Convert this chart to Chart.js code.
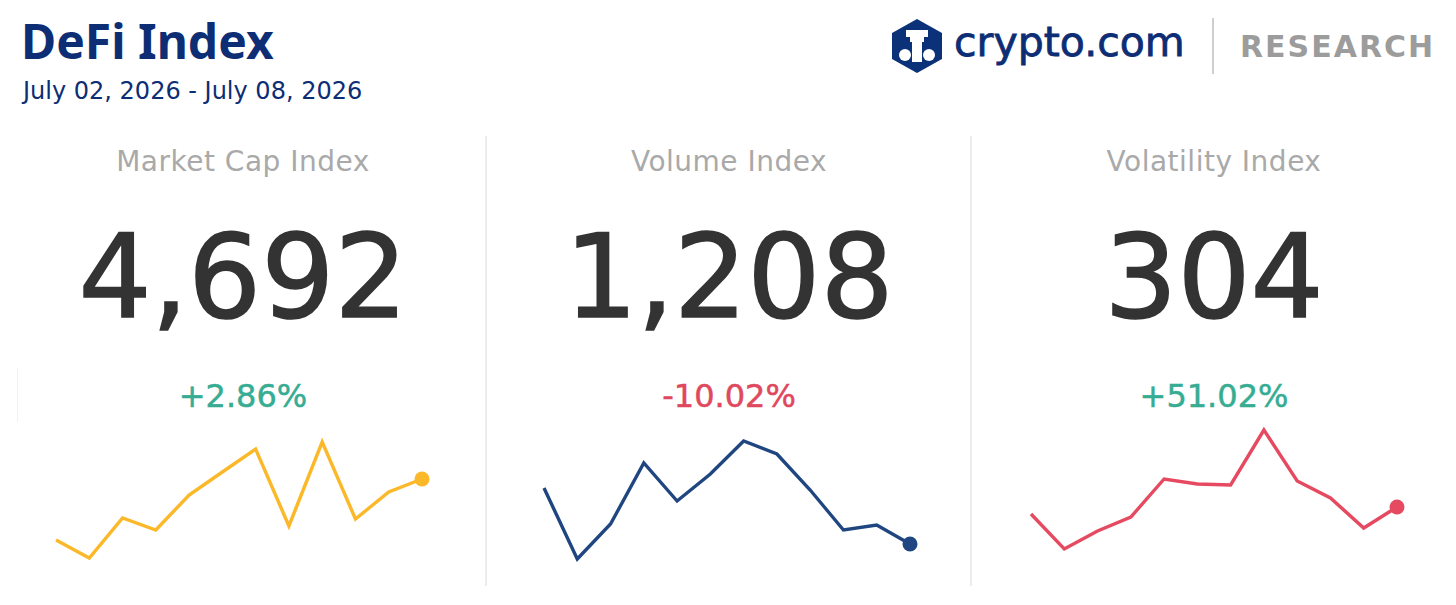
<!DOCTYPE html>
<html>
<head>
<meta charset="utf-8">
<script src="https://cdn.jsdelivr.net/npm/chart.js@4.4.1/dist/chart.umd.min.js"></script>
<style>
  html, body { margin: 0; padding: 0; background: #fff; }
  body { width: 1456px; height: 605px; position: relative; overflow: hidden; font-family: "DejaVu Sans", sans-serif; }
  .abs { position: absolute; white-space: nowrap; line-height: 1; }
  #title { left: 21px; top: 17px; font-family: "Noto Sans", sans-serif; font-size: 48px; font-weight: 700; color: #0d2d74; }
  #dates { left: 23px; top: 79px; font-size: 24px; color: #0d2d74; }
  #brand { left: 954px; top: 22px; font-size: 41px; color: #0d2d74; -webkit-text-stroke: 0.8px #0d2d74; }
  #research { left: 1240px; top: 32px; font-size: 30px; font-weight: 700; color: #9c9c9c; letter-spacing: 2px; }
  #logoSep { left: 1212px; top: 18px; width: 2px; height: 56px; background: #cfcfcf; }
  .divider { top: 136px; width: 2px; height: 450px; background: #ececec; }
  .col { top: 0; width: 486px; height: 605px; }
  .head, .big, .pct { position: absolute; left: 0; width: 100%; text-align: center; line-height: 1; white-space: nowrap; }
  .head { top: 148px; font-size: 28px; letter-spacing: 0.5px; color: #a9a9a9; }
  .big { top: 220px; font-size: 115px; color: #333; -webkit-text-stroke: 1.6px #333; }
  .pct { top: 380px; font-size: 32px; -webkit-text-stroke: 0.5px currentColor; }
  canvas.spark { position: absolute; top: 420px; }
</style>
</head>
<body>
<div class="abs" id="title">DeFi Index</div>
<div class="abs" id="dates">July 02, 2026 - July 08, 2026</div>

<svg class="abs" style="left:890px;top:18px" width="54" height="56" viewBox="0 0 54 56">
  <polygon points="27,1 52,15 52,41 27,55 2,41 2,15" fill="#0b3279"/>
  <rect x="16" y="12" width="22" height="7" fill="#fff"/>
  <rect x="20" y="19" width="14" height="5" fill="#fff"/>
  <rect x="22" y="24" width="10" height="11" fill="#fff"/>
  <circle cx="15" cy="37" r="6" fill="#fff"/>
  <circle cx="39" cy="37" r="6" fill="#fff"/>
  <rect x="22" y="35" width="10" height="9" fill="#fff"/>
</svg>
<div class="abs" id="brand">crypto.com</div>
<div class="abs" id="logoSep"></div>
<div class="abs" id="research">RESEARCH</div>

<div class="abs" style="left:17px;top:368px;width:1px;height:54px;background:#f1f1f1"></div>
<div class="abs divider" style="left:485px"></div>
<div class="abs divider" style="left:970px"></div>

<div id="cols"></div>

<script>
// --- DATA ---
const panelTitles = ["Market Cap Index", "Volume Index", "Volatility Index"];
const panelValues = ["4,692", "1,208", "304"];
const panelChanges = ["+2.86%", "-10.02%", "+51.02%"];
const weekLabels = ["1", "2", "3", "4", "5", "6", "7", "8", "9", "10", "11", "12"];
// sparkline readings (relative units)
const marketCapSeries = [40, 22, 62, 50, 85, 108, 131, 54, 138, 61, 88, 101];
const volumeSeries = [92, 21, 56, 117, 79, 106, 139, 126, 90, 50, 55, 36];
const volatilitySeries = [66, 31, 49, 63, 101, 96, 95, 150, 99, 82, 52, 73];

const seriesList = [marketCapSeries, volumeSeries, volatilitySeries];
const lineColors = ["#fbb829", "#1f4680", "#e64a60"];
const changeColors = ["#36ad93", "#e0485d", "#36ad93"];
const colLeft = [0, 486, 971];
const sparkLeft = [46, 534, 1021];

const colsEl = document.getElementById('cols');

panelTitles.forEach((title, i) => {
    const col = document.createElement('div');
    col.className = 'abs col';
    col.style.left = colLeft[i] + 'px';
    col.innerHTML =
        `<div class="head">${title}</div>` +
        `<div class="big">${panelValues[i]}</div>` +
        `<div class="pct" style="color:${changeColors[i]}">${panelChanges[i]}</div>`;
    colsEl.appendChild(col);

    const canvas = document.createElement('canvas');
    canvas.className = 'spark';
    canvas.width = 386;
    canvas.height = 160;
    canvas.style.left = sparkLeft[i] + 'px';
    document.body.appendChild(canvas);

    const data = seriesList[i];
    const lastIdx = data.length - 1;
    new Chart(canvas.getContext('2d'), {
        type: 'line',
        data: {
            labels: weekLabels,
            datasets: [{
                data: data,
                borderColor: lineColors[i],
                backgroundColor: lineColors[i],
                borderWidth: 3.4,
                tension: 0,
                clip: false,
                pointRadius: data.map((_, k) => k === lastIdx ? 7.5 : 0),
                pointBorderWidth: 0,
                pointBackgroundColor: lineColors[i]
            }]
        },
        options: {
            responsive: false,
            animation: false,
            devicePixelRatio: 1,
            layout: { autoPadding: false, padding: { left: 10, right: 10, top: 0, bottom: 0 } },
            plugins: { legend: { display: false }, tooltip: { enabled: false } },
            scales: {
                x: { display: false, offset: false },
                y: { display: false, min: 0, max: 160 }
            }
        }
    });
});
</script>
</body>
</html>
